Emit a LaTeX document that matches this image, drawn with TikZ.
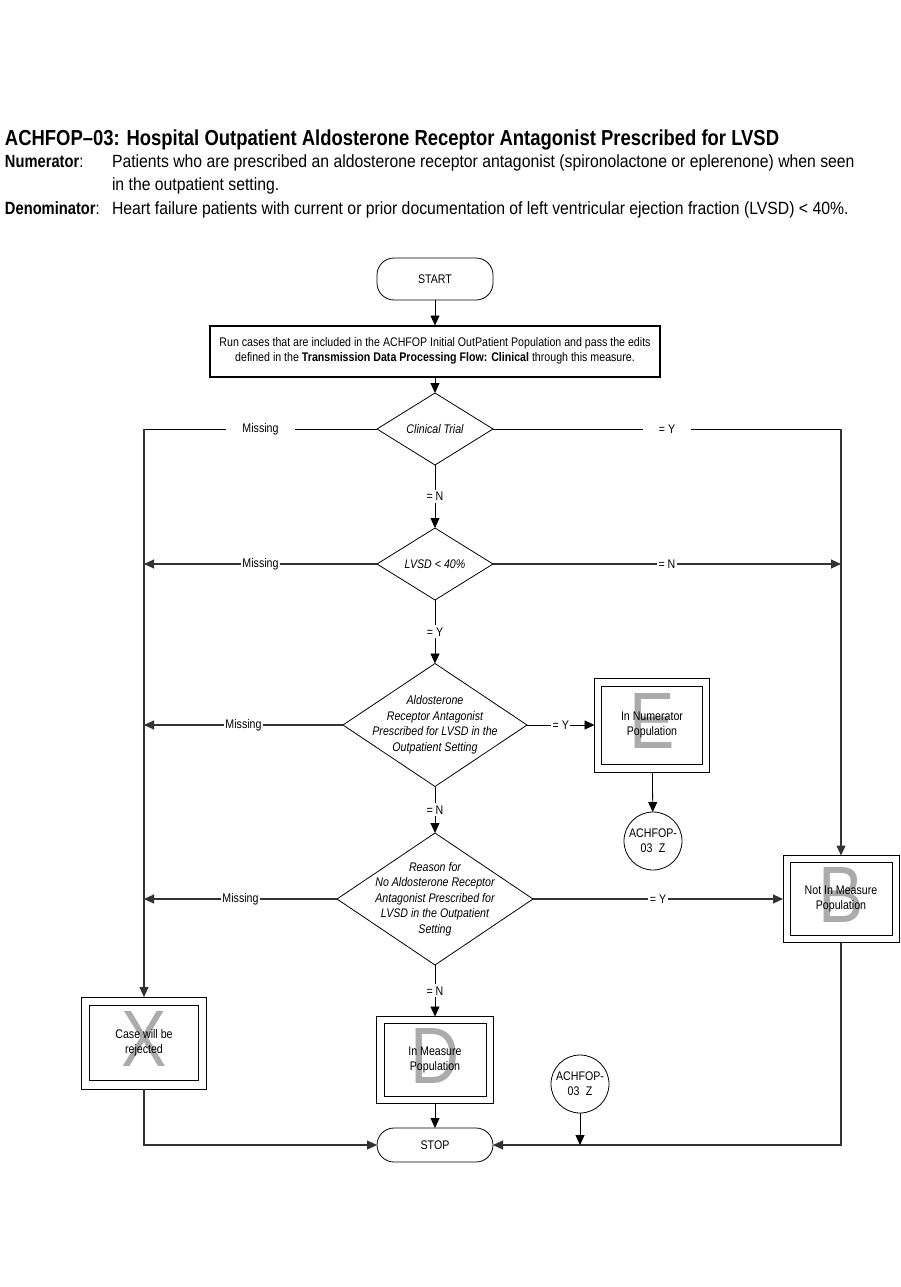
\documentclass[tikz,border=0pt]{standalone}
\usepackage{fontspec}
\setmainfont{Liberation Sans}[FakeStretch=0.85]
\newfontfamily\headfont{Liberation Sans}[FakeStretch=0.89]
\newfontfamily\headlabfont{Liberation Sans}[FakeStretch=0.83]
\usetikzlibrary{arrows.meta,shapes.geometric}
\begin{document}
\begin{tikzpicture}[x=1pt,y=-1pt,
  every node/.style={inner sep=0pt, outer sep=0pt},
  conn/.style={draw=black!80, line width=1.1pt},
  thin conn/.style={draw=black, line width=0.8pt},
  arr/.style={-{Triangle[length=10pt,width=9pt]}},
  txt/.style={font=\fontsize{12.5}{15}\selectfont, align=center},
  itxt/.style={font=\fontsize{12.5}{15.5}\selectfont\itshape, align=center},
  term/.style={draw, line width=0.8pt, rounded corners=17pt, minimum width=116pt, font=\fontsize{12.5}{14}\selectfont},
  dia/.style={draw, line width=0.8pt, shape=diamond, aspect=1},
  outerbox/.style={draw, line width=1pt, minimum width=#1},
  innerbox/.style={draw, line width=1pt},
  bigletter/.style={text=black!33, font=\fontsize{80}{80}\selectfont},
  lab/.style={fill=white, inner xsep=1.5pt, inner ysep=2pt, font=\fontsize{12.5}{14}\selectfont},
  labwide/.style={fill=white, inner xsep=16pt, inner ysep=2pt, font=\fontsize{12.5}{14}\selectfont},
  zcirc/.style={draw, line width=0.8pt, circle, minimum size=58pt, align=center, font=\fontsize{12.5}{15}\selectfont},
  head/.style={anchor=base west, font=\headfont\fontsize{17.7}{20}\selectfont},
  headlab/.style={anchor=base west, font=\headlabfont\fontsize{17.7}{20}\selectfont}
]
\useasboundingbox (0,0) rectangle (901,1287);

% Header
\node[anchor=base west, font=\fontsize{21.7}{24}\selectfont\bfseries] (title) at (5,146)
  {ACHFOP–03: Hospital Outpatient Aldosterone Receptor Antagonist Prescribed for LVSD};
\node[headlab] (numl) at (5,167) {\textbf{Numerator}:};
\node[head] (numt1) at (112,167)
  {Patients who are prescribed an aldosterone receptor antagonist (spironolactone or eplerenone) when seen};
\node[head] (numt2) at (112,190)
  {in the outpatient setting.};
\node[headlab] (denl) at (5,214) {\textbf{Denominator}:};
\node[head] (dent) at (112,214)
  {Heart failure patients with current or prior documentation of left ventricular ejection fraction (LVSD) < 40\%.};

% Terminals
\node[term, minimum height=42pt] (start) at (435,279) {START};
\node[draw, line width=2pt, minimum width=450pt, minimum height=51pt, txt] (run) at (435,351)
  {Run cases that are included in the ACHFOP Initial OutPatient Population and pass the edits\\
   defined in the \textbf{Transmission Data Processing Flow: Clinical} through this measure.};

% Decisions
\node[dia, minimum width=116pt, minimum height=72pt] (ct) at (435,429) {};
\node[itxt] (ctt) at (ct.center) {Clinical Trial};
\node[dia, minimum width=116pt, minimum height=72pt] (lv) at (435,564) {};
\node[itxt] (lvt) at (lv.center) {LVSD < 40\%};
\node[dia, minimum width=184pt, minimum height=123pt] (al) at (435,725) {};
\node[itxt] (alt) at (al.center) {Aldosterone\\Receptor Antagonist\\Prescribed for LVSD in the\\Outpatient Setting};
\node[dia, minimum width=196pt, minimum height=132pt] (rs) at (435,899) {};
\node[itxt] (rst) at (rs.center) {Reason for\\No Aldosterone Receptor\\Antagonist Prescribed for\\LVSD in the Outpatient\\Setting};

% Outcome boxes
\node[outerbox=115pt, minimum height=94pt] (num) at (652,725) {};
\node[innerbox, minimum width=101pt, minimum height=78pt] (numi) at (num.center) {};
\node[bigletter] (numL) at (652,721) {E};
\node[txt] (numT) at (num.center) {In Numerator\\Population};

\node[outerbox=116pt, minimum height=87pt] (nim) at (841,899) {};
\node[innerbox, minimum width=102pt, minimum height=73pt] (nimi) at (nim.center) {};
\node[bigletter] (nimL) at (841,895) {B};
\node[txt] (nimT) at (nim.center) {Not In Measure\\Population};

\node[outerbox=125pt, minimum height=92pt] (cas) at (144,1043) {};
\node[innerbox, minimum width=109pt, minimum height=75pt] (casi) at (cas.center) {};
\node[bigletter] (casL) at (144,1039) {X};
\node[txt] (casT) at (cas.center) {Case will be\\rejected};

\node[outerbox=117pt, minimum height=87pt] (inm) at (435,1060) {};
\node[innerbox, minimum width=102pt, minimum height=73pt] (inmi) at (inm.center) {};
\node[bigletter] (inmL) at (435,1056) {D};
\node[txt] (inmT) at (inm.center) {In Measure\\Population};

\node[term, minimum height=34pt] (stop) at (435,1145) {STOP};

\node[zcirc] (z1) at (653,841) {ACHFOP-\\03\enspace Z};
\node[zcirc] (z2) at (580,1084) {ACHFOP-\\03\enspace Z};

% Main vertical flow
\draw[thin conn, arr] (start) -- (run);
\draw[thin conn, arr] (run) -- (ct);
\draw[thin conn, arr] (ct) -- node[lab] {= N} (lv);
\draw[thin conn, arr] (lv) -- node[lab] {= Y} (al);
\draw[thin conn, arr] (al) -- node[lab] {= N} (rs);
\draw[thin conn, arr] (rs) -- node[lab] {= N} (inm);
\draw[thin conn, arr] (inm) -- (stop);
\draw[thin conn, arr] (num) -- (z1);

% Clinical trial branches
\draw[thin conn] (ct.west) -- node[labwide] {Missing} (ct.west -| cas.north);
\draw[conn, arr] (ct.west -| cas.north) -- (cas.north);
\draw[thin conn] (ct.east) -- node[labwide] {= Y} (ct.east -| nim.north);
\draw[conn, arr] (ct.east -| nim.north) -- (nim.north);

% LVSD branches
\draw[conn, arr] (lv.west) -- node[lab] {Missing} (lv.west -| cas.north);
\draw[conn, arr] (lv.east) -- node[lab] {= N} (lv.east -| nim.north);

% Aldosterone branches
\draw[conn, arr] (al.west) -- node[lab] {Missing} (al.west -| cas.north);
\draw[thin conn, arr] (al.east) -- node[lab] {= Y} (num.west);

% Reason branches
\draw[conn, arr] (rs.west) -- node[lab] {Missing} (rs.west -| cas.north);
\draw[conn, arr] (rs.east) -- node[lab] {= Y} (nim.west);

% To STOP
\draw[conn, arr] (cas.south) |- (stop.west);
\draw[conn, arr] (nim.south) |- (stop.east);
\draw[thin conn, arr] (z2.south) -- (z2.south |- stop.east);
\end{tikzpicture}
\end{document}
